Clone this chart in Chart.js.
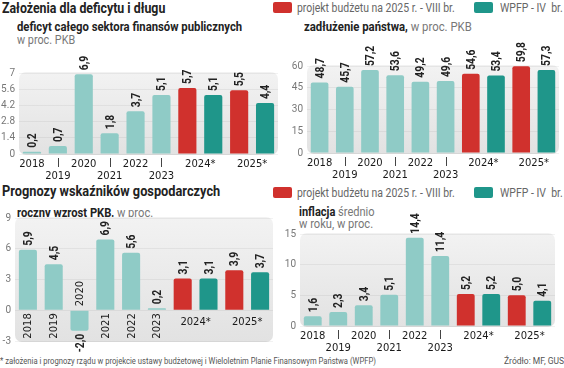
<!DOCTYPE html>
<html lang="pl">
<head>
<meta charset="utf-8">
<script src="https://cdn.jsdelivr.net/npm/chart.js@4"></script>
<style>
  html, body { margin: 0; padding: 0; background: #fff; }
  #page { position: relative; width: 564px; height: 368px; overflow: hidden; font-family: Roboto, "Liberation Sans", sans-serif; }
  canvas { position: absolute; }
  .t { position: absolute; white-space: nowrap; line-height: 1.2; transform-origin: 0 0; }
  .h1 { font-weight: bold; font-size: 15px; color: #222; }
  .h2 { font-weight: bold; font-size: 12.5px; color: #222; }
  .light { font-weight: normal; color: #777; }
  .leg { font-size: 12.5px; color: #666; }
  .sw { position: absolute; width: 19px; height: 11px; border-radius: 2px; }
  .foot { font-size: 9.5px; color: #555; }
</style>
</head>
<body>
<div id="page">
  <div class="t h1" data-w="163" style="left:2px; top:-1px;">Założenia dla deficytu i długu</div>
  <div class="sw" style="left:273px; top:2px; background:#d0312d;"></div>
  <div class="t leg" data-w="158" style="left:297px; top:0px;">projekt budżetu na 2025 r. - VIII br.</div>
  <div class="sw" style="left:474px; top:2px; background:#1f968a;"></div>
  <div class="t leg" data-w="63" style="left:500px; top:0px;">WPFP - IV&nbsp; br.</div>

  <div class="t h2" data-w="225" style="left:17px; top:18.5px;">deficyt całego sektora finansów publicznych</div>
  <div class="t h2 light" data-w="58" style="left:17px; top:31.5px;">w proc. PKB</div>
  <div class="t h2" data-w="168" style="left:304px; top:18.5px;">zadłużenie państwa,<span class="light"> w proc. PKB</span></div>

  <div class="t h1" data-w="218" style="left:2px; top:182px;">Prognozy wskaźników gospodarczych</div>
  <div class="sw" style="left:273px; top:187px; background:#d0312d;"></div>
  <div class="t leg" data-w="158" style="left:297px; top:184.5px;">projekt budżetu na 2025 r. - VIII br.</div>
  <div class="sw" style="left:474px; top:187px; background:#1f968a;"></div>
  <div class="t leg" data-w="63" style="left:500px; top:184.5px;">WPFP - IV&nbsp; br.</div>

  <div class="t h2" data-w="136" style="left:17px; top:204.5px;">roczny wzrost PKB,<span class="light"> w proc.</span></div>
  <div class="t h2" data-w="76" style="left:299px; top:203.5px;">inflacja<span class="light"> średnio</span></div>
  <div class="t h2 light" data-w="74" style="left:299px; top:215.5px;">w roku, w proc.</div>

  <canvas id="c1" width="282" height="140" style="left:0; top:40px;"></canvas>
  <canvas id="c2" width="282" height="140" style="left:282px; top:40px;"></canvas>
  <canvas id="c3" width="282" height="155" style="left:0; top:200px;"></canvas>
  <canvas id="c4" width="282" height="155" style="left:282px; top:200px;"></canvas>

  <div class="t foot" data-w="376" style="left:0; top:355px;">* założenia i prognozy rządu w projekcie ustawy budżetowej i Wieloletnim Planie Finansowym Państwa (WPFP)</div>
  <div class="t foot" data-w="60" style="left:504px; top:355px;">Źródło: MF, GUS</div>
</div>
<script>
// lata i prognozy
const years = ["2018", "2019", "2020", "2021", "2022", "2023"];
const forecastYears = ["2024*", "2025*"];

// deficyt sektora finansów publicznych, % PKB
const deficitHist = [0.2, 0.7, 6.9, 1.8, 3.7, 5.1];
const deficitBudget = [5.7, 5.5];
const deficitWpfp = [5.1, 4.4];
const deficitTicks = [0, 1.4, 2.8, 4.2, 5.6, 7];

// zadłużenie państwa, % PKB
const debtHist = [48.7, 45.7, 57.2, 53.6, 49.2, 49.6];
const debtBudget = [54.6, 59.8];
const debtWpfp = [53.4, 57.3];
const debtTicks = [0, 15, 30, 45, 60];

// wzrost PKB, %
const gdpHist = [5.9, 4.5, -2.0, 6.9, 5.6, 0.2];
const gdpBudget = [3.1, 3.9];
const gdpWpfp = [3.1, 3.7];
const gdpTicks = [-3, 0, 3, 6, 9];

// inflacja, %
const cpiHist = [1.6, 2.3, 3.4, 5.1, 14.4, 11.4];
const cpiBudget = [5.2, 5.0];
const cpiWpfp = [5.2, 4.1];
const cpiTicks = [0, 5, 10, 15];

const COL_HIST = "#8fcbc6";
const COL_BUDGET = "#d0312d";
const COL_WPFP = "#1f968a";
const LABEL_FONT = 'bold 12px Roboto, sans-serif';
const YEAR_FONT = '10px "DejaVu Sans", sans-serif';

// dopasowanie szerokości napisów (wąski krój jak w oryginale)
document.querySelectorAll(".t[data-w]").forEach((el) => {
  const w = parseFloat(el.dataset.w);
  el.style.transform = `scaleX(${w / el.offsetWidth})`;
});

// tło wykresu - zaokrąglony szary prostokąt
const bgPlugin = {
  id: "bgBox",
  beforeDraw(chart) {
    const { ctx, chartArea: a } = chart;
    const g = ctx.createLinearGradient(0, a.top, 0, a.bottom);
    g.addColorStop(0, "#f2f2f2");
    g.addColorStop(1, "#e2e2e2");
    ctx.save();
    ctx.fillStyle = g;
    ctx.beginPath();
    ctx.roundRect(a.left, a.top - 1, a.right - a.left, a.bottom - a.top + 2, 7);
    ctx.fill();
    ctx.restore();
  },
};

// wartości nad słupkami, obrócone o 90 stopni
const valuePlugin = {
  id: "values",
  afterDatasetsDraw(chart) {
    const ctx = chart.ctx;
    ctx.save();
    ctx.font = LABEL_FONT;
    ctx.fillStyle = "#222";
    ctx.textBaseline = "middle";
    chart.data.datasets.forEach((ds, di) => {
      chart.getDatasetMeta(di).data.forEach((bar, i) => {
        const v = ds.data[i];
        if (v === null || v === undefined) return;
        const txt = v.toFixed(1).replace(".", ",");
        ctx.save();
        ctx.translate(bar.x + 1, v >= 0 ? bar.y - 4 : bar.y + 3);
        ctx.rotate(-Math.PI / 2);
        ctx.scale(0.86, 1);
        ctx.textAlign = v >= 0 ? "left" : "right";
        ctx.fillText(txt, 0, 0);
        ctx.restore();
      });
    });
    ctx.restore();
  },
};

// podpisy lat pod osią
const yearsPlugin = {
  id: "years",
  afterDraw(chart, args, opts) {
    const ctx = chart.ctx;
    const x = chart.scales.x;
    const y = chart.scales.y;
    const bottom = chart.chartArea.bottom;
    ctx.save();
    ctx.font = YEAR_FONT;
    ctx.fillStyle = "#1a1a1a";
    ctx.strokeStyle = "#444";
    ctx.lineWidth = 1;
    if (opts.rotated) {
      const zero = y.getPixelForValue(0);
      years.forEach((yr, i) => {
        const px = x.getPixelForValue(i);
        const neg = gdpHist[i] < 0;
        ctx.save();
        ctx.translate(px + 1, neg ? zero - 4 : zero + 3);
        ctx.rotate(-Math.PI / 2);
        ctx.textAlign = neg ? "left" : "right";
        ctx.textBaseline = "middle";
        ctx.fillText(yr, 0, 0);
        ctx.restore();
      });
      ctx.textAlign = "center";
      ctx.textBaseline = "middle";
      forecastYears.forEach((yr, k) => {
        const i = years.length + k * 2;
        const px = (x.getPixelForValue(i) + x.getPixelForValue(i + 1)) / 2;
        ctx.fillText(yr, px, zero + 12);
      });
    } else {
      ctx.textAlign = "center";
      ctx.textBaseline = "middle";
      years.forEach((yr, i) => {
        const px = x.getPixelForValue(i);
        if (i % 2 === 0) {
          ctx.fillText(yr, px, bottom + 10);
        } else {
          ctx.beginPath();
          ctx.moveTo(Math.round(px) + 0.5, bottom + 4);
          ctx.lineTo(Math.round(px) + 0.5, bottom + 13);
          ctx.stroke();
          ctx.fillText(yr, px, bottom + 22);
        }
      });
      forecastYears.forEach((yr, k) => {
        const i = years.length + k * 2;
        const px = (x.getPixelForValue(i) + x.getPixelForValue(i + 1)) / 2;
        ctx.fillText(yr, px, bottom + 10);
      });
    }
    ctx.restore();
  },
};

function slotLabels() {
  const out = years.slice();
  forecastYears.forEach((f) => out.push(f, f));
  return out;
}

function buildChart(id, hist, budget, wpfp, ticks, yWidth, padding, rotated) {
  const n = years.length + forecastYears.length * 2;
  const histData = Array(n).fill(null);
  const budgetData = Array(n).fill(null);
  const wpfpData = Array(n).fill(null);
  hist.forEach((v, i) => (histData[i] = v));
  budget.forEach((v, k) => (budgetData[years.length + k * 2] = v));
  wpfp.forEach((v, k) => (wpfpData[years.length + k * 2 + 1] = v));

  const common = { barPercentage: 0.7, categoryPercentage: 1, borderRadius: 2 };

  return new Chart(document.getElementById(id), {
    type: "bar",
    data: {
      labels: slotLabels(),
      datasets: [
        { label: "dane", data: histData, backgroundColor: COL_HIST, ...common },
        { label: "projekt budżetu na 2025 r. - VIII br.", data: budgetData, backgroundColor: COL_BUDGET, ...common },
        { label: "WPFP - IV br.", data: wpfpData, backgroundColor: COL_WPFP, ...common },
      ],
    },
    options: {
      responsive: false,
      animation: false,
      devicePixelRatio: 1,
      layout: { padding },
      plugins: {
        legend: { display: false },
        tooltip: { enabled: false },
        years: { rotated },
      },
      scales: {
        x: { display: false, stacked: true },
        y: {
          stacked: true,
          min: ticks[0],
          max: ticks[ticks.length - 1],
          afterBuildTicks: (s) => {
            s.ticks = ticks.map((v) => ({ value: v }));
          },
          afterFit: (s) => {
            s.width = yWidth;
          },
          border: { display: false },
          grid: { color: "rgba(0,0,0,0.05)", drawTicks: false },
          ticks: {
            padding: 4,
            color: "#777",
            font: { family: "Roboto, sans-serif", size: 10 },
            callback: (v) => String(v),
          },
        },
      },
    },
    plugins: [bgPlugin, valuePlugin, yearsPlugin],
  });
}

buildChart("c1", deficitHist, deficitBudget, deficitWpfp, deficitTicks, 19, { top: 33, right: 4, bottom: 26, left: 0 }, false);
buildChart("c2", debtHist, debtBudget, debtWpfp, debtTicks, 25, { top: 26, right: 5, bottom: 27, left: 0 }, false);
buildChart("c3", gdpHist, gdpBudget, gdpWpfp, gdpTicks, 15, { top: 18, right: 9, bottom: 14, left: 0 }, true);
buildChart("c4", cpiHist, cpiBudget, cpiWpfp, cpiTicks, 18, { top: 34, right: 9, bottom: 29, left: 0 }, false);
</script>
</body>
</html>
